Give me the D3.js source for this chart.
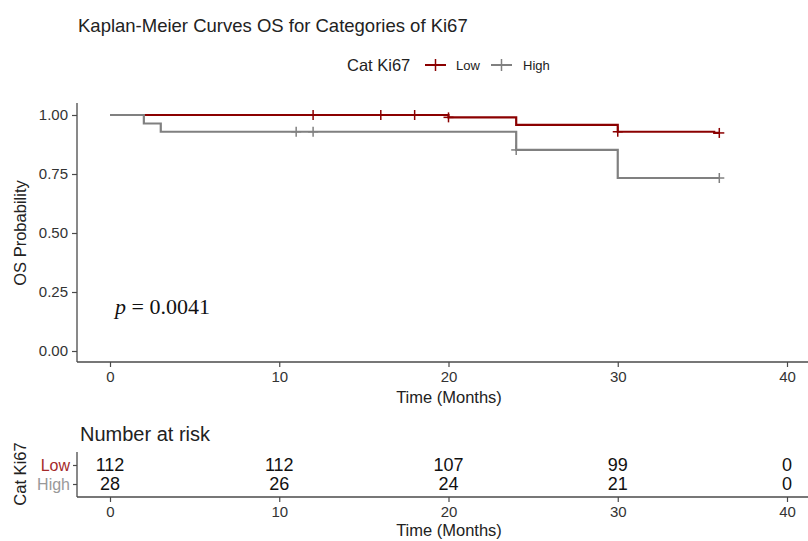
<!DOCTYPE html>
<html><head><meta charset="utf-8">
<script src="https://cdn.jsdelivr.net/npm/d3@7"></script>
<style>body{margin:0;background:#fff}svg{display:block}</style>
</head><body><div id="chart"></div>
<script>
// ---- data ----
const groups = ["Low", "High"];
const groupColors = ["#8B0000", "#808080"];
const labelColors = ["#a52a2a", "#999999"];
// step functions: event times and survival after event
const lowTimes = [0, 20, 24, 30, 35.7];
const lowSurv  = [1.0, 0.99, 0.958, 0.929, 0.924];
const lowEnd = 36;
const lowCensor = [12, 16, 18, 20, 30, 36];
const highTimes = [0, 2, 3, 24, 30];
const highSurv  = [1.0, 0.964, 0.929, 0.852, 0.733];
const highEnd = 36;
const highCensor = [11, 12, 24, 36];
const xTicks = [0, 10, 20, 30, 40];
const yTicks = [0, 0.25, 0.5, 0.75, 1.0];
const riskTimes = [0, 10, 20, 30, 40];
const riskLow  = [112, 112, 107, 99, 0];
const riskHigh = [28, 26, 24, 21, 0];
const pText = "0.0041";

const W = 808, H = 541;
const font = "'Liberation Sans', Arial, sans-serif";
const svg = d3.select("#chart").append("svg").attr("width", W).attr("height", H)
  .style("font-family", font);

const x = d3.scaleLinear().domain([0, 40]).range([110, 787]);
const y = d3.scaleLinear().domain([0, 1]).range([351, 115]);
const axisColor = "#4a4a4a";
const textColor = "#333";

// title
svg.append("text").attr("x", 78).attr("y", 32).attr("font-size", 18.5).attr("fill", "#222")
  .text("Kaplan-Meier Curves OS for Categories of Ki67");

// legend
const leg = svg.append("g");
leg.append("text").attr("x", 347).attr("y", 71).attr("font-size", 16.5).attr("fill", "#222").text("Cat Ki67");
const legItems = [{x0: 425, tx: 456}, {x0: 491, tx: 523}];
groups.forEach((g, i) => {
  const it = legItems[i];
  leg.append("line").attr("x1", it.x0).attr("x2", it.x0 + 21).attr("y1", 65).attr("y2", 65)
    .attr("stroke", groupColors[i]).attr("stroke-width", 2);
  leg.append("line").attr("x1", it.x0 + 10.5).attr("x2", it.x0 + 10.5).attr("y1", 59).attr("y2", 71)
    .attr("stroke", groupColors[i]).attr("stroke-width", 1.5);
  leg.append("text").attr("x", it.tx).attr("y", 70).attr("font-size", 13).attr("fill", "#222").text(g);
});

// axes main
const gx = svg.append("g").attr("transform", "translate(0,362)");
gx.call(d3.axisBottom(x).tickValues(xTicks).tickSize(5).tickPadding(4));
gx.select(".domain").remove();
gx.append("line").attr("x1", 77).attr("x2", 808).attr("y1", 0).attr("y2", 0)
  .attr("stroke", axisColor).attr("stroke-width", 1.3);
gx.selectAll(".tick line").attr("stroke", axisColor).attr("stroke-width", 1.2);
gx.selectAll("text").attr("font-size", 15).attr("fill", textColor).attr("font-family", font);

const gy = svg.append("g").attr("transform", "translate(77,0)");
gy.call(d3.axisLeft(y).tickValues(yTicks).tickFormat(d3.format(".2f")).tickSize(5).tickPadding(4));
gy.select(".domain").remove();
gy.append("line").attr("x1", 0).attr("x2", 0).attr("y1", 103).attr("y2", 362)
  .attr("stroke", axisColor).attr("stroke-width", 1.3);
gy.selectAll(".tick line").attr("stroke", axisColor).attr("stroke-width", 1.2);
gy.selectAll("text").attr("font-size", 15).attr("fill", textColor).attr("font-family", font);

svg.append("text").attr("x", 449).attr("y", 403).attr("text-anchor", "middle")
  .attr("font-size", 16.5).attr("fill", "#222").text("Time (Months)");
svg.append("text").attr("transform", "translate(26,233) rotate(-90)").attr("text-anchor", "middle")
  .attr("font-size", 16.5).attr("fill", "#222").text("OS Probability");

// curves
function stepData(times, surv, end) {
  const pts = [];
  times.forEach((t, i) => pts.push([t, surv[i]]));
  pts.push([end, surv[surv.length - 1]]);
  return pts;
}
function survAt(times, surv, t) {
  let s = surv[0];
  times.forEach((tt, i) => { if (tt <= t) s = surv[i]; });
  return s;
}
const line = d3.line().x(d => x(d[0])).y(d => y(d[1])).curve(d3.curveStepAfter);
const series = [
  {times: lowTimes, surv: lowSurv, end: lowEnd, censor: lowCensor, color: groupColors[0]},
  {times: highTimes, surv: highSurv, end: highEnd, censor: highCensor, color: groupColors[1]}
];
series.forEach(s => {
  svg.append("path").datum(stepData(s.times, s.surv, s.end)).attr("d", line)
    .attr("fill", "none").attr("stroke", s.color).attr("stroke-width", 2.2);
  s.censor.forEach(t => {
    const cx = x(t), cy = y(survAt(s.times, s.surv, t));
    svg.append("line").attr("x1", cx).attr("x2", cx).attr("y1", cy - 5).attr("y2", cy + 5)
      .attr("stroke", s.color).attr("stroke-width", 1.5);
    svg.append("line").attr("x1", cx - 5).attr("x2", cx + 5).attr("y1", cy).attr("y2", cy)
      .attr("stroke", s.color).attr("stroke-width", 1.5);
  });
});

// p value
const pt = svg.append("text").attr("x", 115).attr("y", 314).attr("font-size", 22)
  .attr("font-family", "'Liberation Serif', 'DejaVu Serif', serif").attr("fill", "#111");
pt.append("tspan").attr("font-style", "italic").text("p");
pt.append("tspan").text(" = " + pText);

// risk table
svg.append("text").attr("x", 80).attr("y", 441).attr("font-size", 20).attr("fill", "#222").text("Number at risk");
const yr = d3.scalePoint().domain(groups).range([465, 484]);
const rx = svg.append("g").attr("transform", "translate(0,497)");
rx.call(d3.axisBottom(x).tickValues(xTicks).tickSize(5).tickPadding(4));
rx.select(".domain").remove();
rx.append("line").attr("x1", 77).attr("x2", 808).attr("y1", 0).attr("y2", 0)
  .attr("stroke", axisColor).attr("stroke-width", 1.3);
rx.selectAll(".tick line").attr("stroke", axisColor).attr("stroke-width", 1.2);
rx.selectAll("text").attr("font-size", 15).attr("fill", textColor).attr("font-family", font);

const ry = svg.append("g").attr("transform", "translate(77,0)");
ry.call(d3.axisLeft(yr).tickSize(4).tickPadding(3));
ry.select(".domain").remove();
ry.append("line").attr("x1", 0).attr("x2", 0).attr("y1", 452).attr("y2", 497)
  .attr("stroke", axisColor).attr("stroke-width", 1.3);
ry.selectAll(".tick line").attr("stroke", axisColor).attr("stroke-width", 1.2);
ry.selectAll("text").attr("font-size", 16).attr("font-family", font)
  .attr("fill", (d, i) => labelColors[i]);

[riskLow, riskHigh].forEach((vals, gi) => {
  vals.forEach((v, i) => {
    svg.append("text").attr("x", x(riskTimes[i])).attr("y", yr(groups[gi]))
      .attr("dy", "0.36em").attr("text-anchor", "middle").attr("font-size", 18)
      .attr("fill", "#111").text(v);
  });
});
svg.append("text").attr("x", 449).attr("y", 536).attr("text-anchor", "middle")
  .attr("font-size", 16.5).attr("fill", "#222").text("Time (Months)");
svg.append("text").attr("transform", "translate(26,474) rotate(-90)").attr("text-anchor", "middle")
  .attr("font-size", 16.5).attr("fill", "#222").text("Cat Ki67");
</script></body></html>
